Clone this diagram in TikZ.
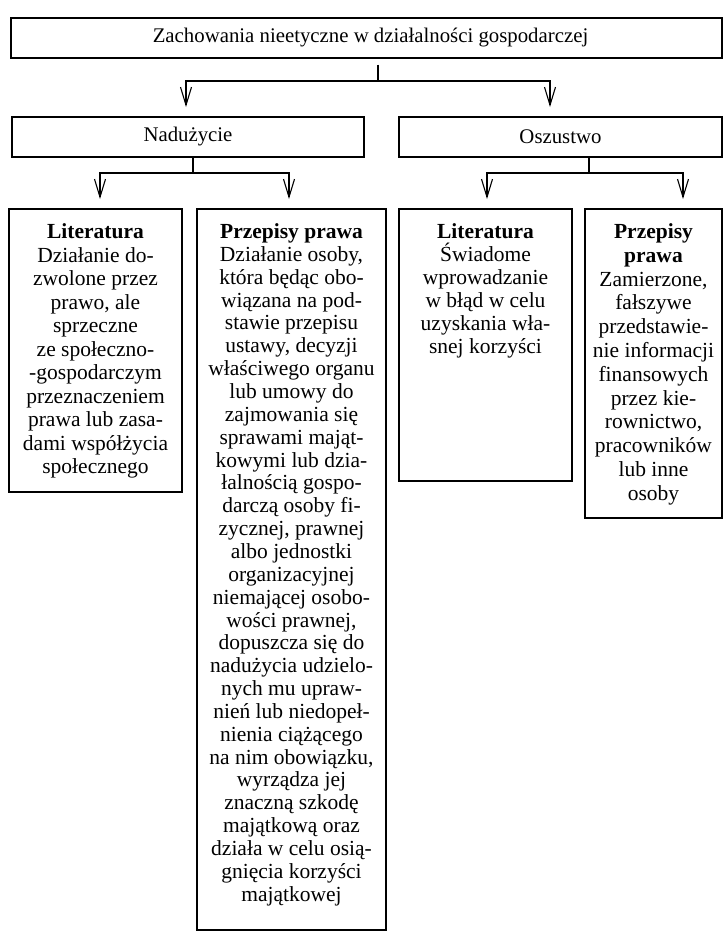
\documentclass[tikz,border=0pt]{standalone}
\usepackage{fontspec}
\setmainfont{Liberation Serif}
\usetikzlibrary{arrows.meta}
\begin{document}
\begin{tikzpicture}[x=1pt,y=1pt,
  box/.style={draw, line width=1.1pt, inner sep=0pt},
  head/.style={font=\fontsize{20.8}{23}\selectfont, align=center, inner sep=0pt},
  txt/.style={font=\fontsize{21.5}{#1}\selectfont, align=center, inner sep=0pt},
  txt/.default=22.9,
  con/.style={line width=1.1pt},
  arr/.style={line width=1.1pt, -{Straight Barb[length=18pt,width=11pt]}}]
\useasboundingbox (0,0) rectangle (724,-934);
% boxes
\node[box, minimum width=711pt, minimum height=40pt] (top) at (366.5,-38) {};
\node[head] (toptxt) at ([xshift=4pt]top.center) {Zachowania nieetyczne w działalności gospodarczej};
\node[box, minimum width=352pt, minimum height=40pt] (nad) at (188,-137) {};
\node[head] (nadtxt) at (nad.center) {Nadużycie};
\node[box, minimum width=323pt, minimum height=40pt] (osz) at (560.5,-137) {};
\node[head] (osztxt) at (osz.center) {Oszustwo};
\node[box, minimum width=173pt, minimum height=283pt] (b1) at (95.5,-350.5) {};
\node[box, minimum width=189pt, minimum height=721pt] (b2) at (291.5,-569.5) {};
\node[box, minimum width=173pt, minimum height=272pt] (b3) at (485.5,-345) {};
\node[box, minimum width=137pt, minimum height=309pt] (b4) at (653.5,-363.5) {};
% texts
\node[txt=23.5, anchor=north] (t1) at ([yshift=-15pt]b1.north) {\textbf{Literatura}\\Działanie do-\\zwolone przez\\prawo, ale\\sprzeczne\\ze społeczno-\\-gospodarczym\\przeznaczeniem\\prawa lub zasa-\\dami współżycia\\społecznego};
\node[txt=22.85, anchor=north] (t2) at ([yshift=-15pt]b2.north) {\textbf{Przepisy prawa}\\Działanie osoby,\\która będąc obo-\\wiązana na pod-\\stawie przepisu\\ustawy, decyzji\\właściwego organu\\lub umowy do\\zajmowania się\\sprawami mająt-\\kowymi lub dzia-\\łalnością gospo-\\darczą osoby fi-\\zycznej, prawnej\\albo jednostki\\organizacyjnej\\niemającej osobo-\\wości prawnej,\\dopuszcza się do\\nadużycia udzielo-\\nych mu upraw-\\nień lub niedopeł-\\nienia ciążącego\\na nim obowiązku,\\wyrządza jej\\znaczną szkodę\\majątkową oraz\\działa w celu osią-\\gnięcia korzyści\\majątkowej};
\node[txt=23, anchor=north] (t3) at ([yshift=-15pt]b3.north) {\textbf{Literatura}\\Świadome\\wprowadzanie\\w błąd w celu\\uzyskania wła-\\snej korzyści};
\node[txt=23.8, anchor=north] (t4) at ([yshift=-15pt]b4.north) {\textbf{Przepisy}\\\textbf{prawa}\\Zamierzone,\\fałszywe\\przedstawie-\\nie informacji\\finansowych\\przez kie-\\rownictwo,\\pracowników\\lub inne\\osoby};
% junctions and arrow tips
\coordinate (j0) at (378,-81);
\coordinate (a0l) at (186,-107);
\coordinate (a0r) at (550,-107);
\coordinate (j1) at (193,-173);
\coordinate (a1l) at (100,-199);
\coordinate (a1r) at (289,-199);
\coordinate (j2) at (589,-173);
\coordinate (a2l) at (487,-199);
\coordinate (a2r) at (683,-199);
% connectors
\draw[con] ([yshift=-6pt]top.south -| j0) -- (j0);
\draw[arr] (j0) -| (a0l);
\draw[arr] (j0) -| (a0r);
\draw[con] (nad.south -| j1) -- (j1);
\draw[arr] (j1) -| (a1l);
\draw[arr] (j1) -| (a1r);
\draw[con] (osz.south -| j2) -- (j2);
\draw[arr] (j2) -| (a2l);
\draw[arr] (j2) -| (a2r);
\end{tikzpicture}
\end{document}
